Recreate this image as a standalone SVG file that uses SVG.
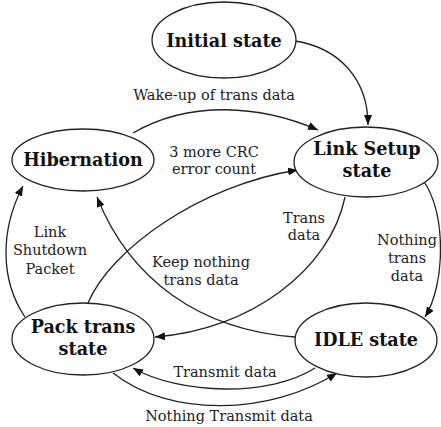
<svg xmlns="http://www.w3.org/2000/svg" width="441" height="427" viewBox="0 0 441 427">
  <defs>
    <marker id="arrow" viewBox="0 0 10 8" refX="10" refY="4" markerWidth="10" markerHeight="8" markerUnits="userSpaceOnUse" orient="auto">
      <path d="M0,0 L10,4 L0,8 Z" fill="#111"/>
    </marker>
  </defs>
  <style>
    .state { fill: #fff; stroke: #222; stroke-width: 1.3; }
    .name { font-family: "DejaVu Serif", "Liberation Serif", serif; font-weight: bold; font-size: 17.6px; fill: #111; text-anchor: middle; }
    .edge { fill: none; stroke: #222; stroke-width: 1.3; marker-end: url(#arrow); }
    .lbl { font-family: "DejaVu Serif", "Liberation Serif", serif; font-size: 14.5px; fill: #222; text-anchor: middle; }
  </style>
  <rect width="441" height="427" fill="#fff"/>

  <!-- transitions -->
  <g id="connectors">
    <path class="edge" d="M295,41 C340,48 368,80 368,125"/>
    <path class="edge" d="M133,133 C190,100 260,105 318,130"/>
    <path class="edge" d="M88,303 C110,250 200,185 298,170"/>
    <path class="edge" d="M295,337 C200,330 130,280 97,197"/>
    <path class="edge" d="M345,197 C330,270 250,330 155,337"/>
    <path class="edge" d="M423,180 C447,215 445,285 425,317"/>
    <path class="edge" d="M25,317 C0,280 0,230 23,186"/>
    <path class="edge" d="M315,368 C270,397 180,395 133,368"/>
    <path class="edge" d="M113,373 C170,418 270,415 337,373"/>
  </g>

  <!-- transition labels -->
  <g id="labels">
    <text class="lbl" x="214" y="100">Wake-up of trans data</text>
    <text class="lbl" x="214" y="157">3 more CRC</text>
    <text class="lbl" x="214" y="174">error count</text>
    <text class="lbl" x="304" y="223">Trans</text>
    <text class="lbl" x="304" y="240">data</text>
    <text class="lbl" x="407" y="245">Nothing</text>
    <text class="lbl" x="407" y="263">trans</text>
    <text class="lbl" x="407" y="281">data</text>
    <text class="lbl" x="50" y="237">Link</text>
    <text class="lbl" x="50" y="255">Shutdown</text>
    <text class="lbl" x="50" y="274">Packet</text>
    <text class="lbl" x="201" y="267">Keep nothing</text>
    <text class="lbl" x="201" y="285">trans data</text>
    <text class="lbl" x="225" y="377">Transmit data</text>
    <text class="lbl" x="229" y="421">Nothing Transmit data</text>
  </g>

  <g id="initial">
    <ellipse class="state" cx="224" cy="40" rx="72" ry="38"/>
    <text class="name" x="224" y="47">Initial state</text>
  </g>
  <g id="hibernation">
    <ellipse class="state" cx="83" cy="160" rx="71" ry="31"/>
    <text class="name" x="83" y="166">Hibernation</text>
  </g>
  <g id="link-setup">
    <ellipse class="state" cx="366" cy="162" rx="72" ry="35"/>
    <text class="name" x="367" y="155">Link Setup</text>
    <text class="name" x="367" y="177">state</text>
  </g>
  <g id="pack-trans">
    <ellipse class="state" cx="83" cy="339" rx="71" ry="36"/>
    <text class="name" x="83" y="333">Pack trans</text>
    <text class="name" x="83" y="355">state</text>
  </g>
  <g id="idle">
    <ellipse class="state" cx="366" cy="340" rx="71" ry="37"/>
    <text class="name" x="366" y="346">IDLE state</text>
  </g>
</svg>
